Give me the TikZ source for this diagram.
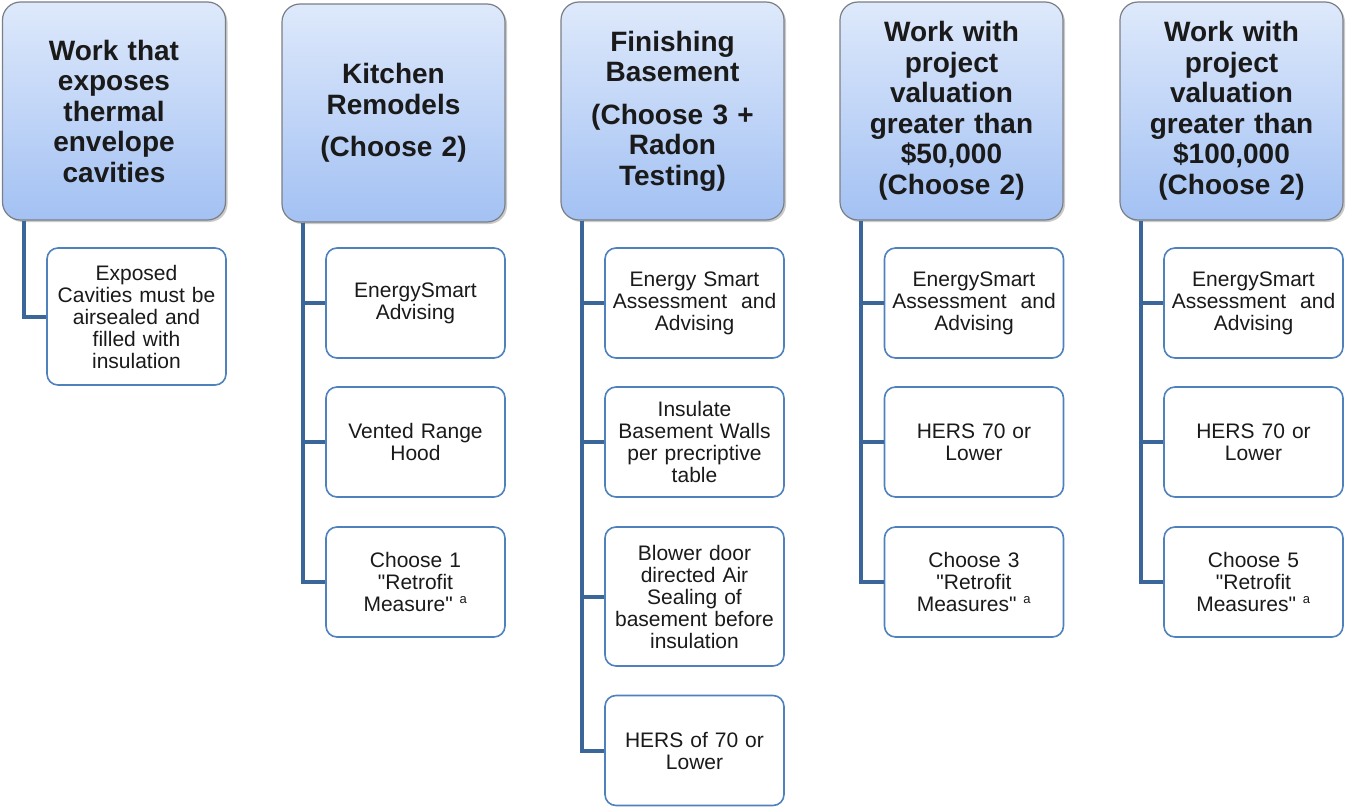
\documentclass[tikz,border=0pt]{standalone}
\usepackage{fontspec}
\setmainfont{Liberation Sans}
\usetikzlibrary{shadows,calc}
\definecolor{hdtop}{HTML}{DEE9FB}
\definecolor{hdbot}{HTML}{A3C1F3}
\definecolor{hdborder}{HTML}{7A7F86}
\definecolor{chborder}{HTML}{4F81BD}
\definecolor{conncol}{HTML}{3B6699}
\definecolor{txt}{HTML}{1A1A1A}
\tikzset{
  header/.style={draw=hdborder, line width=1.2pt, rounded corners=18pt,
    top color=hdtop, bottom color=hdbot, minimum width=223pt, minimum height=218pt,
    inner sep=0pt, text width=220pt, align=center, text=txt,
    font=\fontsize{28}{30.5}\selectfont\bfseries,
    drop shadow={shadow xshift=2pt, shadow yshift=-2pt, opacity=0.35, fill=black!60}},
  child/.style={draw=chborder, line width=1.6pt, rounded corners=11pt, fill=white,
    minimum width=179pt, minimum height=110pt, inner sep=0pt, text width=176pt,
    align=center, text=txt, font=\fontsize{21}{22}\selectfont},
  conn/.style={draw=conncol, line width=4pt}
}
\newcommand{\supa}{ \textsuperscript{\fontsize{13}{13}\selectfont a}}
\newcommand{\qq}{\textquotedbl}
\begin{document}
\begin{tikzpicture}[x=1pt,y=-1pt]
\useasboundingbox (0,0) rectangle (1347,808);
% headers
\node[header] (h1) at (114,111) {Work that\\exposes\\thermal\\envelope\\cavities};
\node[header] (h2) at (393.5,113) {Kitchen\\Remodels\\[12pt](Choose 2)};
\node[header] (h3) at (672.5,111) {Finishing\\Basement\\[12pt](Choose 3 +\\Radon\\Testing)};
\node[header] (h4) at (951.5,111) {Work with\\project\\valuation\\greater than\\\$50,000\\(Choose 2)};
\node[header] (h5) at (1231.5,111) {Work with\\project\\valuation\\greater than\\\$100,000\\(Choose 2)};
% children
\node[child, minimum height=137pt] (c11) at (136.5,316.5) {Exposed\\Cavities must be\\airsealed and\\filled with\\insulation};
\node[child] (c21) at (415.5,303) {EnergySmart\\Advising};
\node[child] (c22) at (415.5,442) {Vented Range\\Hood};
\node[child] (c23) at (415.5,582) {Choose 1\\\qq Retrofit\\Measure\qq\supa};
\node[child] (c31) at (694.5,303) {Energy Smart\\Assessment~~and\\Advising};
\node[child] (c32) at (694.5,442) {Insulate\\Basement Walls\\per precriptive\\table};
\node[child, minimum height=139pt] (c33) at (694.5,596.5) {Blower door\\directed Air\\Sealing of\\basement before\\insulation};
\node[child] (c34) at (694.5,750.5) {HERS of 70 or\\Lower};
\node[child] (c41) at (974,303) {EnergySmart\\Assessment~~and\\Advising};
\node[child] (c42) at (974,442) {HERS 70 or\\Lower};
\node[child] (c43) at (974,582) {Choose 3\\\qq Retrofit\\Measures\qq\supa};
\node[child] (c51) at (1253.5,303) {EnergySmart\\Assessment~~and\\Advising};
\node[child] (c52) at (1253.5,442) {HERS 70 or\\Lower};
\node[child] (c53) at (1253.5,582) {Choose 5\\\qq Retrofit\\Measures\qq\supa};
% connectors
\coordinate (t1) at ($(h1.south west)+(22,0)$);
\coordinate (t2) at ($(h2.south west)+(22,0)$);
\coordinate (t3) at ($(h3.south west)+(22,0)$);
\coordinate (t4) at ($(h4.south west)+(22,0)$);
\coordinate (t5) at ($(h5.south west)+(22,0)$);
\foreach \t/\c in {t1/c11, t2/c21, t2/c22, t2/c23, t3/c31, t3/c32, t3/c33, t3/c34, t4/c41, t4/c42, t4/c43, t5/c51, t5/c52, t5/c53}
  \draw[conn] (\t) |- (\c.west);
\end{tikzpicture}
\end{document}
